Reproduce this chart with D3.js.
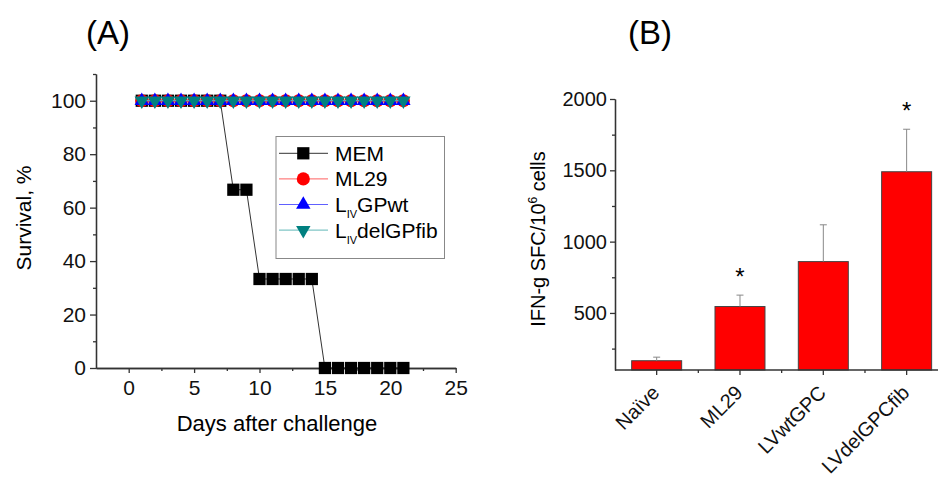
<!DOCTYPE html>
<html>
<head>
<meta charset="utf-8">
<script src="https://cdn.jsdelivr.net/npm/d3@7"></script>
<style>
  body { margin: 0; background: #fff; }
  svg { font-family: Arial, "Liberation Sans", sans-serif; }
  .axis path, .axis line { stroke: #333; stroke-width: 1.3; }
  .axis text { fill: #111; }
</style>
</head>
<body>
<div id="chart"></div>
<script>
// panel A - survival
var days = [1,2,3,4,5,6,7,8,9,10,11,12,13,14,15,16,17,18,19,20,21];
var memSurv = [100,100,100,100,100,100,100,66.7,66.7,33.3,33.3,33.3,33.3,33.3,0,0,0,0,0,0,0];
var ml29Surv = [100,100,100,100,100,100,100,100,100,100,100,100,100,100,100,100,100,100,100,100,100];
var gpwtSurv = [100,100,100,100,100,100,100,100,100,100,100,100,100,100,100,100,100,100,100,100,100];
var delSurv = [100,100,100,100,100,100,100,100,100,100,100,100,100,100,100,100,100,100,100,100,100];
var survTicks = [0,20,40,60,80,100];
var survMinor = [10,30,50,70,90,110];
var dayTicks = [0,5,10,15,20,25];
var dayMinor = [2.5,7.5,12.5,17.5,22.5];

// panel B - IFN-g ELISPOT
var groups = ["Naïve","ML29","LVwtGPC","LVdelGPCfib"];
var sfc = [165, 545, 860, 1490];
var sfcErr = [25, 80, 258, 298];
var signif = [false, true, false, true];
var sfcTicks = [500,1000,1500,2000];
var sfcMinor = [250,750,1250,1750];

var svg = d3.select("#chart").append("svg")
    .attr("width", 938)
    .attr("height", 479);

svg.append("rect").attr("width", 938).attr("height", 479).attr("fill", "#fff");

// ---------- (A) ----------
var x = d3.scaleLinear().domain([-2.5, 25]).range([96, 455.7]);
var y = d3.scaleLinear().domain([0, 110]).range([368, 74]);

svg.append("g")
    .attr("class", "axis")
    .attr("transform", "translate(0,368)")
    .call(d3.axisBottom(x).tickValues(dayMinor).tickSize(3).tickFormat("").tickSizeOuter(0));
svg.append("g")
    .attr("class", "axis")
    .attr("transform", "translate(0,368)")
    .style("font-size", "21px")
    .call(d3.axisBottom(x).tickValues(dayTicks).tickSize(5).tickPadding(7).tickSizeOuter(0));

svg.append("g")
    .attr("class", "axis")
    .attr("transform", "translate(96,0)")
    .call(d3.axisLeft(y).tickValues(survMinor).tickSize(3).tickFormat("").tickSizeOuter(0));
svg.append("g")
    .attr("class", "axis")
    .attr("transform", "translate(96,0)")
    .style("font-size", "21px")
    .call(d3.axisLeft(y).tickValues(survTicks).tickSize(6).tickPadding(4).tickSizeOuter(0));

svg.append("text")
    .attr("x", 277).attr("y", 431)
    .attr("text-anchor", "middle")
    .style("font-size", "22px")
    .text("Days after challenge");

svg.append("text")
    .attr("transform", "translate(31,218) rotate(-90)")
    .attr("text-anchor", "middle")
    .style("font-size", "21px")
    .text("Survival, %");

svg.append("text")
    .attr("x", 108).attr("y", 44)
    .attr("text-anchor", "middle")
    .style("font-size", "33px")
    .text("(A)");

var series = [
  {name: "MEM", sub: null, rest: null, vals: memSurv, sym: d3.symbolSquare, size: 150, rot: 0, fill: "#000", line: "#333"},
  {name: "ML29", sub: null, rest: null, vals: ml29Surv, sym: d3.symbolCircle, size: 135, rot: 0, fill: "#ff0000", line: "#ff6060"},
  {name: "L", sub: "IV", rest: "GPwt", vals: gpwtSurv, sym: d3.symbolTriangle, size: 90, rot: 0, fill: "#0000ff", line: "#6060ff"},
  {name: "L", sub: "IV", rest: "delGPfib", vals: delSurv, sym: d3.symbolTriangle, size: 90, rot: 180, fill: "#008080", line: "#60b8b8"}
];

series.forEach(function(s){
  var pts = days.map(function(d, i){ return [d, s.vals[i]]; });
  svg.append("path")
      .datum(pts)
      .attr("fill", "none")
      .attr("stroke", s.line)
      .attr("stroke-width", 1)
      .attr("d", d3.line().x(function(d){ return x(d[0]); }).y(function(d){ return y(d[1]); }));
  svg.append("g").selectAll("path")
      .data(pts)
      .enter().append("path")
      .attr("d", d3.symbol().type(s.sym).size(s.size))
      .attr("transform", function(d){ return "translate(" + x(d[0]) + "," + y(d[1]) + ") rotate(" + s.rot + ")"; })
      .attr("fill", s.fill);
});

// legend
var leg = svg.append("g");
leg.append("rect")
    .attr("x", 276).attr("y", 136.5)
    .attr("width", 168.5).attr("height", 122)
    .attr("fill", "#fff")
    .attr("stroke", "#888")
    .attr("stroke-width", 1);

series.forEach(function(s, i){
  var cy = 153.3 + i * 25.6;
  leg.append("line")
      .attr("x1", 279).attr("x2", 328)
      .attr("y1", cy).attr("y2", cy)
      .attr("stroke", s.line).attr("stroke-width", 1);
  leg.append("path")
      .attr("d", d3.symbol().type(s.sym).size(s.size))
      .attr("transform", "translate(303.3," + cy + ") rotate(" + s.rot + ")")
      .attr("fill", s.fill);
  var t = leg.append("text")
      .attr("x", 335).attr("y", cy + 7.5)
      .style("font-size", "21px");
  t.append("tspan").text(s.name);
  if (s.sub) {
    t.append("tspan").attr("dy", 6).style("font-size", "11px").text(s.sub);
    t.append("tspan").attr("dy", -6).text(s.rest);
  }
});

// ---------- (B) ----------
var xb = d3.scaleBand().domain(groups).range([615, 948.3]).paddingInner(0.4).paddingOuter(0.2);
var yb = d3.scaleLinear().domain([100, 2000]).range([370, 99]);
var step = xb.step();

svg.append("g")
    .attr("class", "axis")
    .attr("transform", "translate(615,0)")
    .call(d3.axisLeft(yb).tickValues(sfcMinor).tickSize(3).tickFormat("").tickSizeOuter(0));
svg.append("g")
    .attr("class", "axis")
    .attr("transform", "translate(615,0)")
    .style("font-size", "20px")
    .call(d3.axisLeft(yb).tickValues(sfcTicks).tickSize(5).tickPadding(3).tickSizeOuter(0).tickFormat(d3.format("d")));

// bars
svg.append("g").selectAll("rect")
    .data(groups)
    .enter().append("rect")
    .attr("x", function(d){ return xb(d); })
    .attr("y", function(d, i){ return yb(sfc[i]); })
    .attr("width", xb.bandwidth())
    .attr("height", function(d, i){ return yb(100) - yb(sfc[i]); })
    .attr("fill", "#ff0000")
    .attr("stroke", "#444")
    .attr("stroke-width", 1);

// error bars
var eb = svg.append("g").attr("stroke", "#888").attr("stroke-width", 1);
groups.forEach(function(g, i){
  var cx = xb(g) + xb.bandwidth() / 2;
  eb.append("line")
      .attr("x1", cx).attr("x2", cx)
      .attr("y1", yb(sfc[i])).attr("y2", yb(sfc[i] + sfcErr[i]));
  eb.append("line")
      .attr("x1", cx - 3.5).attr("x2", cx + 3.5)
      .attr("y1", yb(sfc[i] + sfcErr[i])).attr("y2", yb(sfc[i] + sfcErr[i]));
  if (signif[i]) {
    svg.append("text")
        .attr("x", cx).attr("y", yb(sfc[i] + sfcErr[i]) - 10)
        .attr("text-anchor", "middle")
        .style("font-size", "24px")
        .text("*");
  }
});

// x axis with centre ticks and minor ticks between bars
var xAxisB = svg.append("g").attr("class", "axis");
xAxisB.append("line")
    .attr("x1", 615).attr("x2", 948.3)
    .attr("y1", 370).attr("y2", 370);
groups.forEach(function(g, i){
  var cx = xb(g) + xb.bandwidth() / 2;
  xAxisB.append("line")
      .attr("x1", cx).attr("x2", cx)
      .attr("y1", 370).attr("y2", 375);
  xAxisB.append("line")
      .attr("x1", cx + step / 2).attr("x2", cx + step / 2)
      .attr("y1", 370).attr("y2", 373);
  xAxisB.append("text")
      .attr("transform", "translate(" + (cx + 4) + ",394) rotate(-45)")
      .attr("text-anchor", "end")
      .style("font-size", "20px")
      .text(g);
});

var ylab = svg.append("text")
    .attr("transform", "translate(545,239) rotate(-90)")
    .attr("text-anchor", "middle")
    .style("font-size", "20px");
ylab.append("tspan").text("IFN-g SFC/10");
ylab.append("tspan").attr("dy", -8).style("font-size", "12px").text("6");
ylab.append("tspan").attr("dy", 8).text(" cells");

svg.append("text")
    .attr("x", 650).attr("y", 44)
    .attr("text-anchor", "middle")
    .style("font-size", "33px")
    .text("(B)");
</script>
</body>
</html>
